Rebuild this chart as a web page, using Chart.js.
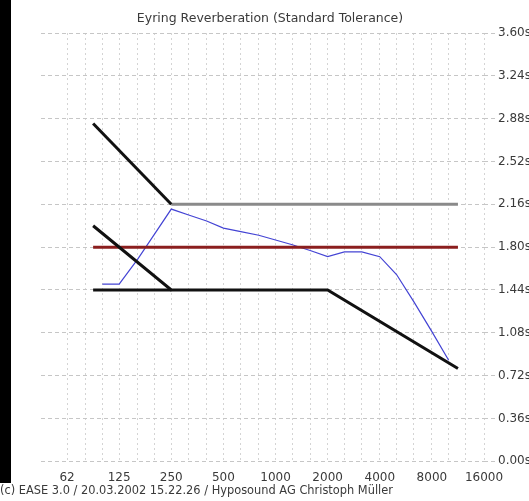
<!DOCTYPE html>
<html>
<head>
<meta charset="utf-8">
<script src="https://cdn.jsdelivr.net/npm/chart.js@4"></script>
<style>
  html, body { margin: 0; padding: 0; background: #fff; overflow: hidden; }
  #wrap { position: relative; width: 529px; height: 501px; overflow: hidden; }
  #bar { position: absolute; left: 0; top: 0; width: 11px; height: 483px; background: #000; }
  canvas { position: absolute; left: 0; top: 0; }
</style>
</head>
<body>
<div id="wrap">
  <canvas id="rtChart" width="540" height="501"></canvas>
  <div id="bar"></div>
</div>
<script>
// --- data ---
const bandFreqs = [100, 125, 160, 200, 250, 315, 400, 500, 630, 800, 1000, 1250, 1600, 2000, 2500, 3150, 4000, 5000, 6300, 8000, 10000];
const eyringRT = [1.49, 1.49, 1.70, 1.91, 2.12, 2.07, 2.02, 1.96, 1.93, 1.90, 1.86, 1.82, 1.77, 1.72, 1.76, 1.76, 1.72, 1.57, 1.34, 1.09, 0.85];

// tolerance lines
const upperFreqs = [88.4, 250];
const upperRT = [2.84, 2.16];
const upperFlatFreqs = [250, 11314];
const upperFlatRT = [2.16, 2.16];
const targetFreqs = [88.4, 11314];
const targetRT = [1.80, 1.80];
const lowerFreqs = [88.4, 250, 2000, 11314];
const lowerRT = [1.98, 1.44, 1.44, 0.78];
const lowerBaseFreqs = [88.4, 250];
const lowerBaseRT = [1.44, 1.44];

// axes
const gridFreqs = [62.5, 80, 100, 125, 160, 200, 250, 315, 400, 500, 630, 800, 1000, 1250, 1600, 2000, 2500, 3150, 4000, 5000, 6300, 8000, 10000, 12500, 16000];
const labelFreqs = [62.5, 125, 250, 500, 1000, 2000, 4000, 8000, 16000];
const labelTexts = ['62', '125', '250', '500', '1000', '2000', '4000', '8000', '16000'];
const yTicks = [0, 0.36, 0.72, 1.08, 1.44, 1.80, 2.16, 2.52, 2.88, 3.24, 3.60];

const pts = (xs, ys) => xs.map((x, i) => ({ x: x, y: ys[i] }));

Chart.defaults.font.family = 'DejaVu Sans';
Chart.defaults.font.size = 11;
Chart.defaults.color = '#3a3a3a';

const ctx = document.getElementById('rtChart').getContext('2d');
const rtChart = new Chart(ctx, {
    type: 'line',
    data: {
        datasets: [
            { data: pts(upperFreqs, upperRT), borderColor: '#111', borderWidth: 3 },
            { data: pts(lowerFreqs, lowerRT), borderColor: '#111', borderWidth: 3 },
            { data: pts(lowerBaseFreqs, lowerBaseRT), borderColor: '#111', borderWidth: 3 },
            { data: pts(upperFlatFreqs, upperFlatRT), borderColor: '#8a8a8a', borderWidth: 3 },
            { data: pts(targetFreqs, targetRT), borderColor: '#8b1e1e', borderWidth: 3 },
            { data: pts(bandFreqs, eyringRT), borderColor: '#4444d4', borderWidth: 1.2 }
        ].map(d => Object.assign(d, { yAxisID: 'y', pointRadius: 0, tension: 0, fill: false }))
    },
    options: {
        responsive: false,
        animation: false,
        layout: { padding: 0 },
        plugins: {
            legend: { display: false },
            tooltip: { enabled: false },
            title: {
                display: true,
                text: 'Eyring Reverberation (Standard Tolerance)',
                font: { size: 12.5, weight: 'normal' },
                padding: { top: 11, bottom: 7 }
            },
            subtitle: {
                display: true,
                position: 'bottom',
                align: 'start',
                text: '(c) EASE 3.0 / 20.03.2002 15.22.26 / Hyposound AG Christoph Müller',
                font: { size: 11.4 },
                padding: { top: 0, bottom: 3 }
            }
        },
        scales: {
            x: {
                type: 'logarithmic',
                min: 44.2,
                max: 16000,
                afterBuildTicks: s => { s.ticks = gridFreqs.map(v => ({ value: v })); },
                afterFit: s => { s.height = 23; },
                grid: { color: '#d4d4d4', drawTicks: false },
                border: { display: false, dash: [2, 3] },
                ticks: {
                    autoSkip: false,
                    maxRotation: 0,
                    padding: 9,
                    font: { size: 12 },
                    callback: v => {
                        const i = labelFreqs.indexOf(v);
                        return i >= 0 ? labelTexts[i] : '';
                    }
                }
            },
            y: {
                position: 'right',
                min: 0,
                max: 3.6,
                afterBuildTicks: s => { s.ticks = yTicks.map(v => ({ value: v })); },
                afterFit: s => { s.width = 56; },
                grid: { color: '#c6c6c6', tickLength: 12, tickBorderDash: [4, 3], tickColor: '#c6c6c6' },
                border: { display: false, dash: [4, 3] },
                ticks: { padding: 2, font: { size: 12 }, callback: v => v.toFixed(2) + 's' }
            },
            yl: {
                position: 'left',
                grid: { display: false },
                border: { display: false },
                ticks: { display: false },
                afterFit: s => { s.width = 41; }
            }
        }
    }
});
</script>
</body>
</html>
